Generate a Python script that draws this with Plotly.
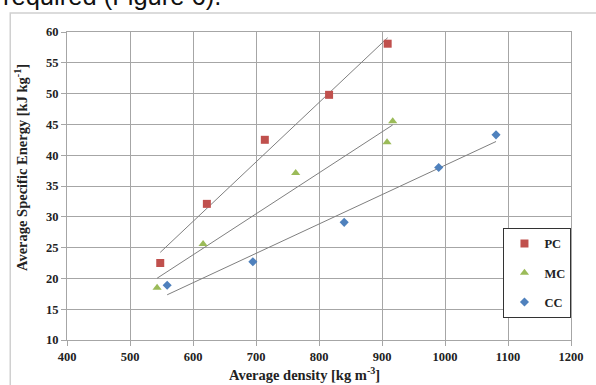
import numpy as np
import plotly.graph_objects as go

# Data
pc_x = [548, 622, 714, 816, 909]
pc_y = [22.5, 32.1, 42.5, 49.8, 58.1]
mc_x = [543, 616, 763, 908, 917]
mc_y = [18.5, 25.6, 37.1, 42.1, 45.5]
cc_x = [559, 695, 840, 990, 1081]
cc_y = [18.9, 22.7, 29.1, 38.0, 43.3]

x_ticks = [400, 500, 600, 700, 800, 900, 1000, 1100, 1200]
y_ticks = [10, 15, 20, 25, 30, 35, 40, 45, 50, 55, 60]

series = [
    ("PC", pc_x, pc_y, "#C0504D", "square", 8),
    ("MC", mc_x, mc_y, "#9BBB59", "triangle-up", 8),
    ("CC", cc_x, cc_y, "#4F81BD", "diamond", 7),
]

SERIF = "Liberation Serif"

fig = go.Figure()
# trendlines first (under markers)
for name, xs, ys, col, sym, sz in series:
    k, b = np.polyfit(xs, ys, 1)
    x0, x1 = min(xs), max(xs)
    fig.add_trace(go.Scatter(x=[x0, x1], y=[k * x0 + b, k * x1 + b], mode="lines",
                             line=dict(color="#7f7f7f", width=1), showlegend=False,
                             hoverinfo="skip"))
for name, xs, ys, col, sym, sz in series:
    fig.add_trace(go.Scatter(x=xs, y=ys, mode="markers", name=name, legendgroup=name,
                             marker=dict(color=col, symbol=sym, size=sz, line=dict(width=0))))

fig.update_layout(
    width=596, height=385,
    margin=dict(l=67, r=15, t=32, b=45),
    paper_bgcolor="white", plot_bgcolor="white",
    font=dict(family=SERIF, color="#222"),
    showlegend=True,
    legend=dict(x=0.866, y=0.364, xanchor="left", yanchor="top",
                bordercolor="#333", borderwidth=1, bgcolor="white",
                font=dict(family=SERIF, size=12.5, color="#222", weight="bold"),
                tracegroupgap=10, itemwidth=30),
)
fig.update_xaxes(range=[400, 1200], tickvals=x_ticks, showgrid=True, gridcolor="#a6a6a6",
                 gridwidth=1, showline=True, linecolor="#a6a6a6", mirror=True, zeroline=False,
                 ticks="outside", ticklen=5, tickcolor="#a6a6a6",
                 tickfont=dict(family=SERIF, size=12.5, weight="bold", color="#222"))
fig.update_yaxes(range=[10, 60], tickvals=y_ticks, showgrid=True, gridcolor="#a6a6a6",
                 gridwidth=1, showline=True, linecolor="#a6a6a6", mirror=True, zeroline=False,
                 ticks="outside", ticklen=5, tickcolor="#a6a6a6",
                 tickfont=dict(family=SERIF, size=12.5, weight="bold", color="#222"))

# axis titles
fig.add_annotation(text="Average density [kg m<sup>-3</sup>]", xref="paper", yref="paper",
                   x=0.472, y=-0.112, xanchor="center", yanchor="middle", showarrow=False,
                   font=dict(family=SERIF, size=14.5, weight="bold", color="#222"))
fig.add_annotation(text="Average Specific Energy [kJ kg<sup>-1</sup>]", xref="paper", yref="paper",
                   x=-0.0913, y=0.5617, xanchor="center", yanchor="middle", textangle=-90,
                   showarrow=False,
                   font=dict(family=SERIF, size=14.5, weight="bold", color="#222"))

# document text above chart (cropped)
fig.add_annotation(text="required (Figure 6).", xref="paper", yref="paper",
                   x=-67/515, y=1 + 20/308, xanchor="left", yanchor="bottom", showarrow=False,
                   font=dict(family="Liberation Sans", size=25.5, color="#111"))

# outer chart frame
fig.add_shape(type="rect", xref="paper", yref="paper",
              x0=-58/515, x1=1 + 30/515, y0=-80/308, y1=1 + 19/308,
              line=dict(color="#d0d0d0", width=1.5), fillcolor="rgba(0,0,0,0)", layer="below")

fig.write_html("out.html", config={"displayModeBar": False},
               post_script="document.body.style.margin='0';document.body.style.padding='0';")
